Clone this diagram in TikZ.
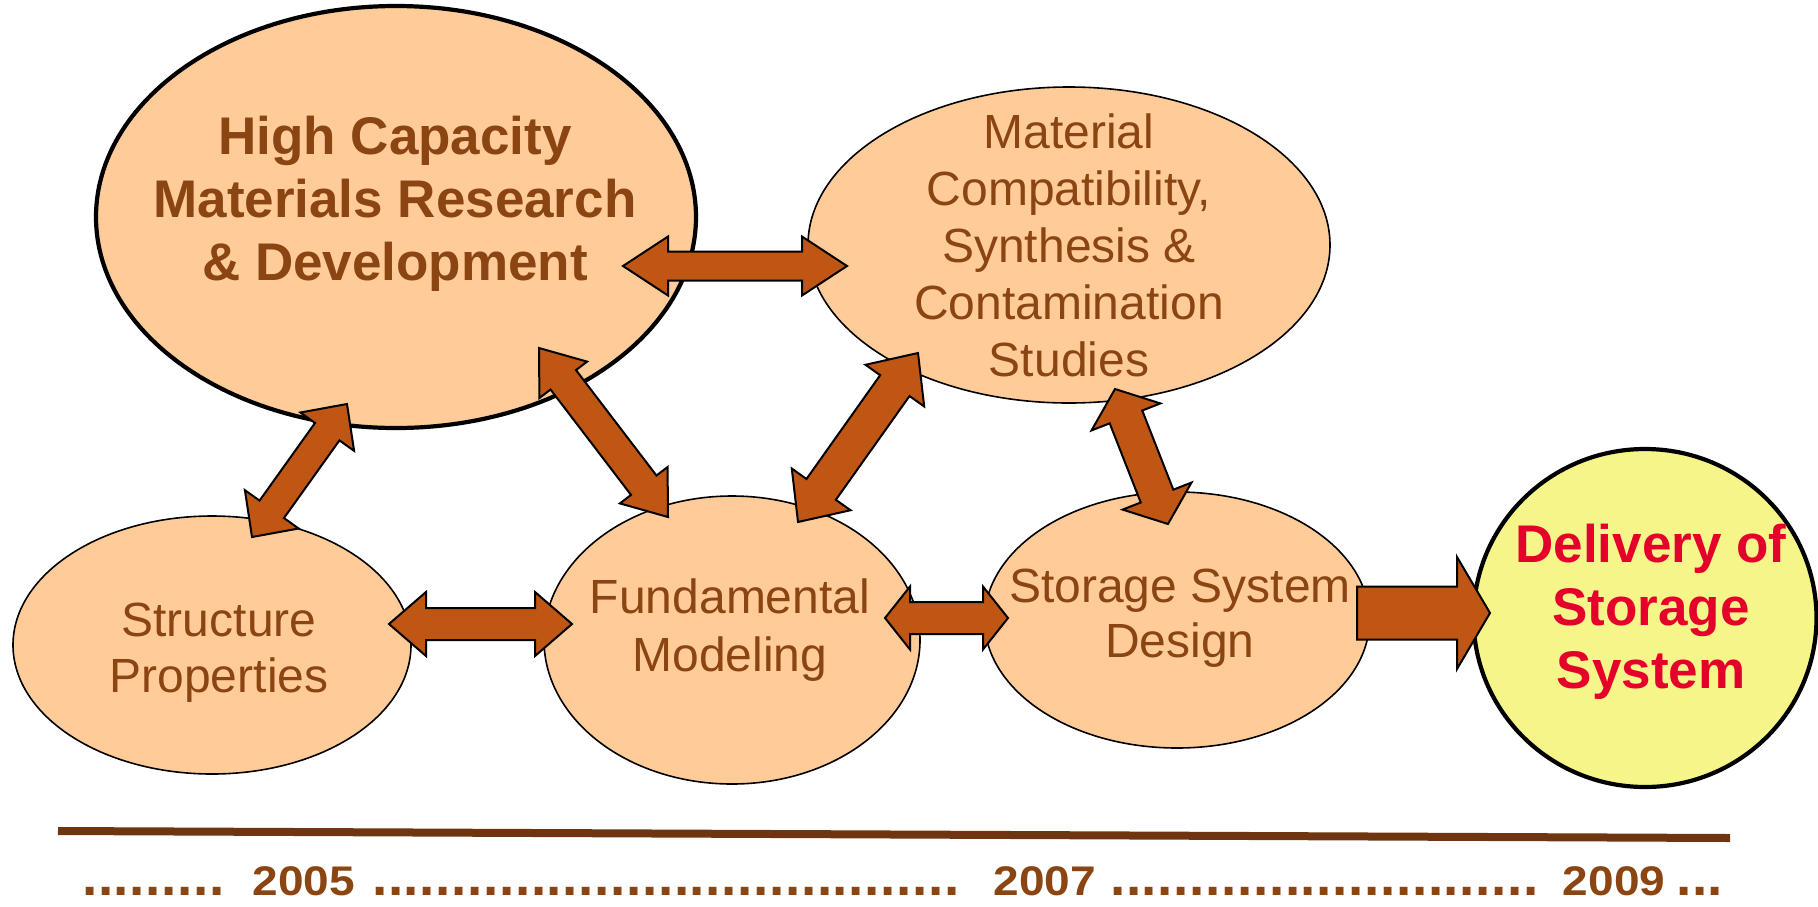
\documentclass[tikz,border=0pt]{standalone}
\usepackage{fontspec}
\usepackage{graphicx}
\setmainfont{Liberation Sans}
\usetikzlibrary{shapes.geometric,calc}
\definecolor{peach}{HTML}{FFCC99}
\definecolor{yel}{HTML}{F5F58A}
\definecolor{arrowc}{HTML}{C05614}
\definecolor{txtbrown}{HTML}{8B4513}
\definecolor{txtred}{HTML}{E4002B}
\definecolor{lineb}{HTML}{6E3510}
\newcommand\dotrun[1]{\foreach \k in {1,...,#1}{.\kern0.6pt}}
\begin{document}
\begin{tikzpicture}[x=1pt,y=-1pt,
 bubble/.style={ellipse, draw=black, fill=peach, line width=1.6pt, inner sep=0pt},
 bigbubble/.style={bubble, line width=4.2pt},
 lbl/.style={align=center, text=txtbrown, inner sep=0pt, font=\fontsize{48}{57}\selectfont},
 blbl/.style={align=center, text=txtbrown, inner sep=0pt, font=\bfseries\fontsize{53}{63}\selectfont},
 yr/.style={text=txtbrown, inner sep=0pt, font=\bfseries\fontsize{46}{50}\selectfont},
 dt/.style={text=txtbrown, inner sep=0pt, font=\bfseries\fontsize{55}{60}\selectfont},
 dblarrow/.style n args={3}{draw=black, line width=2pt, fill=arrowc, line join=miter,
   to path={let \p1=(\tikztostart), \p2=(\tikztotarget), \n1={atan2(\y2-\y1,\x2-\x1)} in
   -- ($(\p1)+(\n1:#3)+(\n1+90:#2)$)
   -- ($(\p1)+(\n1:#3)+(\n1+90:#1)$)
   -- ($(\p2)+(\n1+180:#3)+(\n1+90:#1)$)
   -- ($(\p2)+(\n1+180:#3)+(\n1+90:#2)$)
   -- (\p2)
   -- ($(\p2)+(\n1+180:#3)+(\n1-90:#2)$)
   -- ($(\p2)+(\n1+180:#3)+(\n1-90:#1)$)
   -- ($(\p1)+(\n1:#3)+(\n1-90:#1)$)
   -- ($(\p1)+(\n1:#3)+(\n1-90:#2)$)
   -- cycle}},
 sglarrow/.style n args={3}{draw=black, line width=2pt, fill=arrowc, line join=miter,
   to path={let \p1=(\tikztostart), \p2=(\tikztotarget), \n1={atan2(\y2-\y1,\x2-\x1)} in
   -- ($(\p1)+(\n1+90:#1)$)
   -- ($(\p2)+(\n1+180:#3)+(\n1+90:#1)$)
   -- ($(\p2)+(\n1+180:#3)+(\n1+90:#2)$)
   -- (\p2)
   -- ($(\p2)+(\n1+180:#3)+(\n1-90:#2)$)
   -- ($(\p2)+(\n1+180:#3)+(\n1-90:#1)$)
   -- ($(\p1)+(\n1-90:#1)$)
   -- cycle}}
]
\useasboundingbox (0,0) rectangle (1818,906);

% ellipses
\node[bigbubble, minimum width=600pt, minimum height=422pt] (hc) at (396,217) {};
\node[bubble, minimum width=522pt, minimum height=316pt] (mc) at (1069,245) {};
\node[bubble, minimum width=398pt, minimum height=258pt] (sp) at (212,645) {};
\node[bubble, minimum width=376pt, minimum height=288pt] (fm) at (732,640) {};
\node[bubble, minimum width=385pt, minimum height=256pt] (ss) at (1177,620) {};
\node[bigbubble, fill=yel, minimum width=343pt, minimum height=338pt] (dl) at (1645,618) {};

% arrow end points
\coordinate (a1s) at (623,266);  \coordinate (a1e) at (847,266);
\coordinate (a2s) at (539,348);  \coordinate (a2e) at (668,517);
\coordinate (a3s) at (918,353);  \coordinate (a3e) at (798,522);
\coordinate (a4s) at (347,404);  \coordinate (a4e) at (252,537);
\coordinate (a5s) at (389,624);  \coordinate (a5e) at (572,624);
\coordinate (a6s) at (885,618);  \coordinate (a6e) at (1008,618);
\coordinate (a7s) at (1115,389); \coordinate (a7e) at (1168,524);
\coordinate (a8s) at (1357,613); \coordinate (a8e) at (1490,613);

\draw[dblarrow={14.5pt}{29.5pt}{45pt}] (a1s) to (a1e);
\draw[dblarrow={16pt}{30pt}{40pt}] (a2s) to (a2e);
\draw[dblarrow={18pt}{36pt}{40pt}] (a3s) to (a3e);
\draw[dblarrow={15pt}{33pt}{34pt}] (a4s) to (a4e);
\draw[dblarrow={16pt}{32pt}{37pt}] (a5s) to (a5e);
\draw[dblarrow={16pt}{31.5pt}{25pt}] (a6s) to (a6e);
\draw[dblarrow={17.5pt}{37pt}{30pt}] (a7s) to (a7e);
\draw[sglarrow={26.5pt}{56pt}{33pt}] (a8s) to (a8e);

% labels
\node[blbl] (hct) at (395,204) {High Capacity\\Materials Research\\\& Development};
\node[lbl] (mct) at (1069,245) {Material\\Compatibility,\\Synthesis \&\\Contamination\\Studies};
\node[lbl, font=\fontsize{48}{56}\selectfont] (spt) at (219,653) {Structure\\Properties};
\node[lbl, font=\fontsize{48}{58}\selectfont] (fmt) at (730,630) {Fundamental\\Modeling};
\node[lbl, font=\fontsize{48}{55}\selectfont] (sst) at (1180,618) {Storage System\\Design};
\node[blbl, text=txtred] (dlt) at (1651,612) {Delivery of\\Storage\\System};

% timeline
\coordinate (tl1) at (58,831);
\coordinate (tl2) at (1730,838);
\draw[lineb, line width=8pt] (tl1) -- (tl2);
\node[dt, anchor=base west] (d1) at (82,895) {\dotrun{9}};
\node[yr, anchor=base] (y1) at (304,895) {\scalebox{1}[0.9]{2005}};
\node[dt, anchor=base west] (d2) at (372,895) {\dotrun{37}};
\node[yr, anchor=base] (y2) at (1045,895) {\scalebox{1}[0.9]{2007}};
\node[dt, anchor=base west] (d3) at (1110,895) {\dotrun{27}};
\node[yr, anchor=base] (y3) at (1614,895) {\scalebox{1}[0.9]{2009}};
\node[dt, anchor=base west] (d4) at (1676,895) {\dotrun{3}};
\end{tikzpicture}
\end{document}
